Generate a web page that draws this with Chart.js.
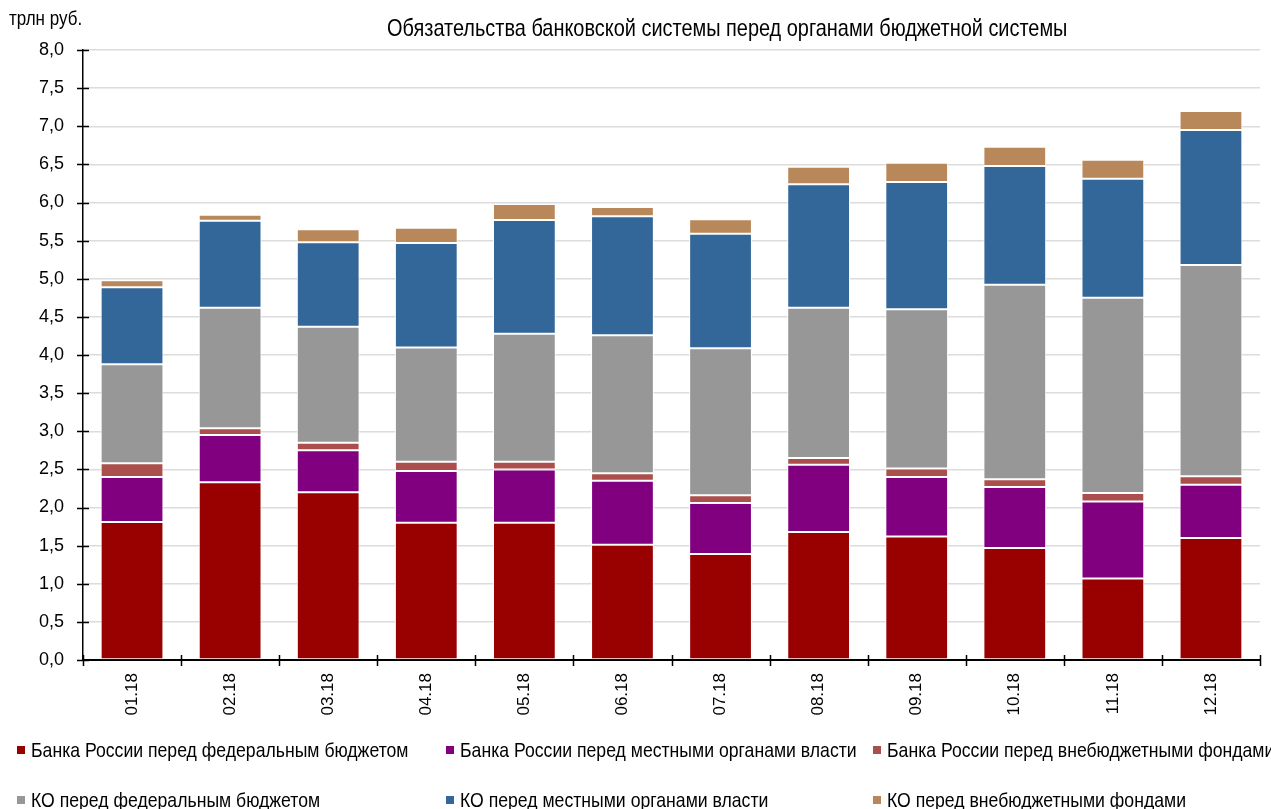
<!DOCTYPE html>
<html>
<head>
<meta charset="utf-8">
<script src="https://cdn.jsdelivr.net/npm/chart.js@4.4.1/dist/chart.umd.min.js"></script>
<style>
  html, body { margin: 0; padding: 0; background: #fff; }
  #wrap { position: relative; width: 1271px; height: 809px; overflow: hidden; }
  #c { position: absolute; left: 0; top: 0; }
  .txt { position: absolute; white-space: nowrap; color: #000; transform-origin: 0 50%;
         font-family: 'Liberation Sans', Arial, sans-serif; }
  #title { left: 387px; top: 14px; font-size: 24px; transform: scaleX(0.83); }
  #unit { left: 9px; top: 7px; font-size: 20px; transform: scaleX(0.85); }
  .leg { position: absolute; height: 24px; line-height: 24px; white-space: nowrap;
         font-family: 'Liberation Sans', Arial, sans-serif; }
  .leg i { display: inline-block; width: 8px; height: 8px; margin-right: 6px; vertical-align: 3px; }
  .leg span { display: inline-block; font-size: 21px; transform: scaleX(0.84); transform-origin: 0 50%; }
</style>
</head>
<body>
<div id="wrap">
  <canvas id="c" width="1271" height="809"></canvas>
  <div id="title" class="txt">Обязательства банковской системы перед органами бюджетной системы</div>
  <div id="unit" class="txt">трлн руб.</div>
  <div id="legend"></div>
</div>
<script>
const categories = ['01.18','02.18','03.18','04.18','05.18','06.18','07.18','08.18','09.18','10.18','11.18','12.18'];
const cbrFederal = [1.81, 2.33, 2.20, 1.80, 1.80, 1.51, 1.39, 1.68, 1.62, 1.47, 1.07, 1.60];
const cbrLocal   = [0.59, 0.62, 0.55, 0.68, 0.70, 0.84, 0.67, 0.88, 0.78, 0.80, 1.01, 0.70];
const cbrFunds   = [0.18, 0.09, 0.10, 0.12, 0.10, 0.10, 0.10, 0.09, 0.11, 0.10, 0.11, 0.11];
const koFederal  = [1.30, 1.58, 1.52, 1.50, 1.68, 1.81, 1.93, 1.97, 2.09, 2.55, 2.56, 2.77];
const koLocal    = [1.01, 1.14, 1.11, 1.37, 1.49, 1.56, 1.50, 1.62, 1.67, 1.56, 1.56, 1.77];
const koFunds    = [0.09, 0.08, 0.17, 0.20, 0.21, 0.12, 0.19, 0.23, 0.25, 0.25, 0.25, 0.25];
const seriesNames = [
  'Банка России перед федеральным бюджетом',
  'Банка России перед местными органами власти',
  'Банка России перед внебюджетными фондами',
  'КО перед федеральным бюджетом',
  'КО перед местными органами власти',
  'КО перед внебюджетными фондами'
];
const yTickMin = 0, yTickMax = 8, yTickStep = 0.5;

const colors = ['#990000', '#800080', '#aa4f4b', '#979797', '#336699', '#b8875a'];
const seriesData = [cbrFederal, cbrLocal, cbrFunds, koFederal, koLocal, koFunds];
const FONT = "'Liberation Sans', Arial, sans-serif";

const crossTicks = {
  id: 'crossTicks',
  afterDraw(chart) {
    const ctx = chart.ctx, xs = chart.scales.x, ys = chart.scales.y;
    ctx.save();
    ctx.strokeStyle = '#000';
    ctx.lineWidth = 1.5;
    ctx.beginPath();
    ys.ticks.forEach(t => {
      const py = Math.round(ys.getPixelForValue(t.value)) + 0.5;
      ctx.moveTo(ys.right - 6, py); ctx.lineTo(ys.right + 6, py);
    });
    const n = xs.ticks.length, w = (xs.right - xs.left) / n;
    for (let i = 0; i <= n; i++) {
      const px = Math.round(xs.getPixelForValue(0) - w / 2 + i * w) + 0.5;
      ctx.moveTo(px, xs.top - 5); ctx.lineTo(px, xs.top + 6);
    }
    ctx.stroke();
    ctx.restore();
  }
};

const chart = new Chart(document.getElementById('c'), {
  type: 'bar',
  data: {
    labels: categories,
    datasets: seriesData.map((d, i) => ({
      label: seriesNames[i],
      data: d,
      backgroundColor: colors[i],
      borderColor: '#ffffff',
      borderWidth: 1,
      borderSkipped: false,
      barPercentage: 0.64,
      categoryPercentage: 1.0
    }))
  },
  options: {
    responsive: false,
    animation: false,
    layout: { padding: { top: 50, right: 11, left: 0, bottom: 0 } },
    plugins: { legend: { display: false }, title: { display: false }, tooltip: { enabled: false } },
    scales: {
      x: {
        stacked: true,
        afterFit(s) { s.height = 149; },
        grid: { display: true, drawOnChartArea: false, drawTicks: false },
        border: { display: true, color: '#000', width: 2 },
        ticks: { minRotation: 90, maxRotation: 90, padding: 13, color: '#000',
                 font: { family: FONT, size: 17 } }
      },
      y: {
        stacked: true,
        min: yTickMin, max: yTickMax,
        afterFit(s) { s.width = 83; },
        grid: { color: '#dcdcdc', lineWidth: 1.5, drawTicks: false },
        border: { display: true, color: '#000', width: 1.5 },
        ticks: { stepSize: yTickStep, padding: 19, color: '#000',
                 font: { family: FONT, size: 18 },
                 callback: v => Number(v).toFixed(1).replace('.', ',') }
      }
    }
  },
  plugins: [crossTicks]
});

const legend = document.getElementById('legend');
chart.data.datasets.forEach((ds, i) => {
  const col = i % 3, row = Math.floor(i / 3);
  const el = document.createElement('div');
  el.className = 'leg';
  el.style.left = [17, 446, 873][col] + 'px';
  el.style.top = [738, 788][row] + 'px';
  el.innerHTML = '<i style="background:' + ds.backgroundColor + '"></i><span>' + ds.label + '</span>';
  legend.appendChild(el);
});
</script>
</body>
</html>
